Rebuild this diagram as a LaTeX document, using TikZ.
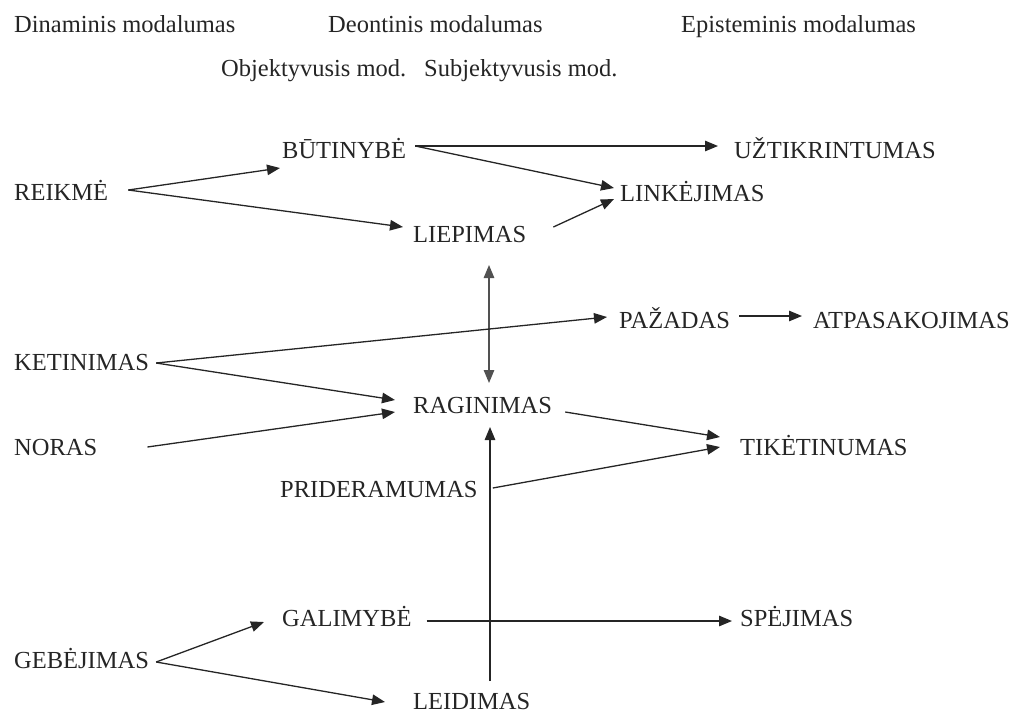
\documentclass[tikz,border=0pt]{standalone}
\usepackage{fontspec}
\setmainfont{Liberation Serif}
\usetikzlibrary{arrows.meta}
\definecolor{ink}{HTML}{252525}
\begin{document}
\begin{tikzpicture}[x=1pt,y=-1pt,
  lbl/.style={anchor=base west,inner sep=0pt,text=ink,font=\fontsize{24.5}{28}\selectfont},
  con/.style={draw=ink,line width=1.3pt,-{Triangle[length=13pt,width=10.5pt]}},
  bicon/.style={draw=ink!80,line width=1.3pt,{Triangle[length=13pt,width=10.5pt]}-{Triangle[length=13pt,width=10.5pt]}},
  plain/.style={draw=ink,line width=1.3pt}]
\useasboundingbox (0,0) rectangle (1020,713);
% headers
\node[lbl] (hdin) at (14,32) {Dinaminis modalumas};
\node[lbl] (hdeo) at (328,32) {Deontinis modalumas};
\node[lbl] (hepi) at (681,32) {Episteminis modalumas};
\node[lbl] (hobj) at (221,76) {Objektyvusis mod.};
\node[lbl] (hsub) at (424,76) {Subjektyvusis mod.};
% nodes
\node[lbl] (butinybe) at (282,158) {BŪTINYBĖ};
\node[lbl] (uztikr) at (734,158) {UŽTIKRINTUMAS};
\node[lbl] (reikme) at (14,200) {REIKMĖ};
\node[lbl] (linkej) at (620,201) {LINKĖJIMAS};
\node[lbl] (liepimas) at (413,242) {LIEPIMAS};
\node[lbl] (pazadas) at (619,328) {PAŽADAS};
\node[lbl] (atpas) at (813,328) {ATPASAKOJIMAS};
\node[lbl] (ketin) at (14,370) {KETINIMAS};
\node[lbl] (ragin) at (413,413) {RAGINIMAS};
\node[lbl] (noras) at (14,455) {NORAS};
\node[lbl] (tiket) at (740,455) {TIKĖTINUMAS};
\node[lbl] (prider) at (280,497) {PRIDERAMUMAS};
\node[lbl] (galim) at (282,626) {GALIMYBĖ};
\node[lbl] (spej) at (740,626) {SPĖJIMAS};
\node[lbl] (gebej) at (14,668) {GEBĖJIMAS};
\node[lbl] (leid) at (413,709) {LEIDIMAS};
% connectors
\draw[con] ([shift={(20,-10)}]reikme.base east) -- ([shift={(-2,10)}]butinybe.base west);
\draw[con] ([shift={(20,-10)}]reikme.base east) -- ([shift={(-10,-15)}]liepimas.base west);
\draw[con] ([shift={(9,-12)}]butinybe.base east) -- ([shift={(-16,-12)}]uztikr.base west);
\draw[con] ([shift={(9,-12)}]butinybe.base east) -- ([shift={(-6,-13)}]linkej.base west);
\draw[con] ([shift={(27,-15)}]liepimas.base east) -- ([shift={(-6,-2)}]linkej.base west);
\draw[bicon] ([shift={(76,23)}]liepimas.base west) -- ([shift={(76,-30)}]ragin.base west);
\draw[con] ([shift={(7,-7)}]ketin.base east) -- ([shift={(-12,-11)}]pazadas.base west);
\draw[con] ([shift={(9,-12)}]pazadas.base east) -- ([shift={(-11,-12)}]atpas.base west);
\draw[con] ([shift={(7,-7)}]ketin.base east) -- ([shift={(-18,-13)}]ragin.base west);
\draw[con] ([shift={(50,-8)}]noras.base east) -- ([shift={(-18,-1)}]ragin.base west);
\draw[con] ([shift={(13,-1)}]ragin.base east) -- ([shift={(-20,-18)}]tiket.base west);
\draw[con] ([shift={(15,-9)}]prider.base east) -- ([shift={(-20,-8)}]tiket.base west);
\draw[con] ([shift={(77,-28)}]leid.base west) -- ([shift={(77,14)}]ragin.base west);
\draw[con] ([shift={(15,-5)}]galim.base east) -- ([shift={(-8,-5)}]spej.base west);
\draw[con] ([shift={(7,-6)}]gebej.base east) -- ([shift={(-18,-4)}]galim.base west);
\draw[con] ([shift={(7,-6)}]gebej.base east) -- ([shift={(-28,-7)}]leid.base west);
\end{tikzpicture}
\end{document}
